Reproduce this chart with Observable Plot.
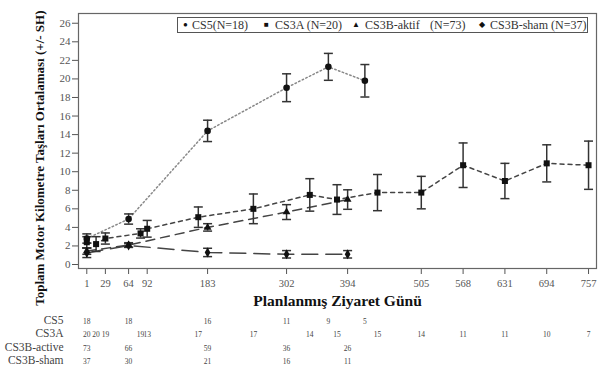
<!DOCTYPE html>
<html>
<head>
<meta charset="utf-8">
<script src="https://cdn.jsdelivr.net/npm/d3@7"></script>
<script src="https://cdn.jsdelivr.net/npm/@observablehq/plot@0.6"></script>
<style>
  html, body { margin: 0; padding: 0; background: #fff; }
  #wrap { position: relative; width: 605px; height: 373px; font-family: "Liberation Serif", "Times New Roman", "DejaVu Serif", serif; }
  #wrap svg text { font-family: "Liberation Serif", "Times New Roman", "DejaVu Serif", serif; }
  #legend { position: absolute; left: 177px; top: 17px; width: 409px; height: 14px; border: 1.5px solid #555; background: #fff; }
  #legend span { position: absolute; top: 0; line-height: 14px; font-size: 12px; color: #333; white-space: nowrap; font-family: "Liberation Serif", "Times New Roman", serif; }
  #legend span.sym { font-size: 8px; color: #111; }
</style>
</head>
<body>
<div id="wrap"><div id="legend"></div></div>
<script>
// ---- data ----
const xTicks = [1, 29, 64, 92, 183, 302, 394, 505, 568, 631, 694, 757];

const cs5Days = [1, 64, 183, 302, 365, 420];
const cs5Mean = [2.8, 4.9, 14.4, 19.05, 21.3, 19.8];
const cs5Se   = [0.5, 0.55, 1.15, 1.5, 1.45, 1.75];
const cs5N    = [18, 18, 16, 11, 9, 5];

const cs3aDays = [1, 15, 29, 82, 92, 169, 252, 337, 378, 439, 505, 568, 631, 694, 757];
const cs3aMean = [2.4, 2.2, 2.8, 3.35, 3.85, 5.1, 6.0, 7.5, 7.0, 7.75, 7.75, 10.7, 9.0, 10.9, 10.7];
const cs3aSe   = [0.6, 0.8, 0.6, 0.5, 0.9, 1.1, 1.6, 1.75, 1.6, 1.95, 1.75, 2.4, 1.9, 2.0, 2.6];
const cs3aN    = [20, 20, 19, 19, 13, 17, 17, 14, 15, 15, 14, 11, 11, 10, 7];

const aktifDays = [1, 64, 183, 302, 394];
const aktifMean = [1.45, 2.1, 4.0, 5.65, 7.0];
const aktifSe   = [0.35, 0.25, 0.4, 0.8, 1.05];
const aktifN    = [73, 66, 59, 36, 26];

const shamDays = [1, 64, 183, 302, 394];
const shamMean = [1.25, 2.05, 1.3, 1.1, 1.1];
const shamSe   = [0.5, 0.2, 0.45, 0.4, 0.4];
const shamN    = [37, 30, 21, 16, 11];

const legendLabels = ["CS5(N=18)", "CS3A (N=20)", "CS3B-aktif", "(N=73)", "CS3B-sham (N=37)"];
const tableLabels = ["CS5", "CS3A", "CS3B-active", "CS3B-sham"];
const yLabel = "Toplam Motor Kilometre Taşları Ortalaması (+/- SH)";
const xLabel = "Planlanmış Ziyaret Günü";

// ---- series definitions ----
const series = [
  {name: "CS5",   days: cs5Days,   mean: cs5Mean,   se: cs5Se,   n: cs5N,   symbol: "circle",   r: 3.3, dash: "1.5,2.5", stroke: "#888"},
  {name: "CS3A",  days: cs3aDays,  mean: cs3aMean,  se: cs3aSe,  n: cs3aN,  symbol: "square",   r: 3.4, dash: "4,4",     stroke: "#444"},
  {name: "aktif", days: aktifDays, mean: aktifMean, se: aktifSe, n: aktifN, symbol: "triangle", r: 2.9, dash: "9,6",     stroke: "#444"},
  {name: "sham",  days: shamDays,  mean: shamMean,  se: shamSe,  n: shamN,  symbol: "diamond",  r: 3.0, dash: "16,8",    stroke: "#444"}
];
const rows = series.flatMap(s => s.days.map((d, i) => ({series: s.name, day: d, mean: s.mean[i], se: s.se[i], n: s.n[i]})));
const bySeries = name => rows.filter(r => r.series === name);

const cap = {draw(ctx, size) { const w = Math.sqrt(size / Math.PI); ctx.moveTo(-w, 0); ctx.lineTo(w, 0); }};
const tableDy = [55, 68.5, 82, 95.5];
const serif = "'Liberation Serif', 'Times New Roman', 'DejaVu Serif', serif";

const plot = Plot.plot({
  width: 605,
  height: 373,
  marginLeft: 78,
  marginRight: 9,
  marginTop: 13,
  marginBottom: 105,
  style: {fontFamily: serif, background: "transparent", overflow: "visible"},
  x: {domain: [-11.5, 769]},
  y: {domain: [-0.43, 27.05]},
  marks: [
    Plot.axisY({ticks: d3.range(0, 27, 2), tickSize: 6, tickPadding: 2, fontSize: 11, fill: "#555", stroke: "#555", label: null}),
    Plot.axisX({ticks: xTicks, tickSize: 6, tickPadding: 5, fontSize: 10.5, fill: "#555", stroke: "#555", label: null}),
    Plot.frame({stroke: "#666", strokeWidth: 1.2}),
    ...series.map(s => Plot.line(bySeries(s.name), {x: "day", y: "mean", stroke: s.stroke, strokeWidth: 1.5, strokeDasharray: s.dash})),
    Plot.ruleX(rows, {x: "day", y1: d => d.mean - d.se, y2: d => d.mean + d.se, stroke: "#333", strokeWidth: 1.5}),
    Plot.dot(rows, {x: "day", y: d => d.mean - d.se, symbol: cap, r: 4.5, stroke: "#333", strokeWidth: 1.5, fill: "none"}),
    Plot.dot(rows, {x: "day", y: d => d.mean + d.se, symbol: cap, r: 4.5, stroke: "#333", strokeWidth: 1.5, fill: "none"}),
    ...series.map(s => Plot.dot(bySeries(s.name), {x: "day", y: "mean", symbol: s.symbol, r: s.r, fill: "#111", stroke: "none"})),
    ...series.map((s, i) => Plot.text(bySeries(s.name), {x: "day", text: d => String(d.n), frameAnchor: "bottom", dy: tableDy[i], fontSize: 7.5, fill: "#444"})),
    ...tableLabels.map((t, i) => Plot.text([t], {text: d => d, frameAnchor: "bottom-left", dx: -15, dy: tableDy[i], textAnchor: "end", fontSize: 11.5, fill: "#444"})),
    Plot.text([xLabel], {text: d => d, frameAnchor: "bottom", dy: 37, fontSize: 15.5, fontWeight: "bold", fill: "#111"}),
    Plot.text([yLabel], {text: d => d, frameAnchor: "top-left", dx: -44, dy: -3, rotate: -90, textAnchor: "end", fontSize: 13, fontWeight: "bold", fill: "#111"})
  ]
});
const wrap = document.getElementById("wrap");
wrap.insertBefore(plot, wrap.firstChild);

// legend (inside the plot frame, top right)
const legend = document.getElementById("legend");
const symbols = ["●", "■", "▲", "", "◆"];
const symLeft = [5, 86, 174, null, 301];
const txtLeft = [14, 97, 187, 252, 312];
legendLabels.forEach((lab, i) => {
  if (symbols[i]) {
    const s = document.createElement("span");
    s.className = "sym"; s.textContent = symbols[i]; s.style.left = symLeft[i] + "px";
    legend.appendChild(s);
  }
  const t = document.createElement("span");
  t.textContent = lab; t.style.left = txtLeft[i] + "px";
  legend.appendChild(t);
});
</script>
</body>
</html>
